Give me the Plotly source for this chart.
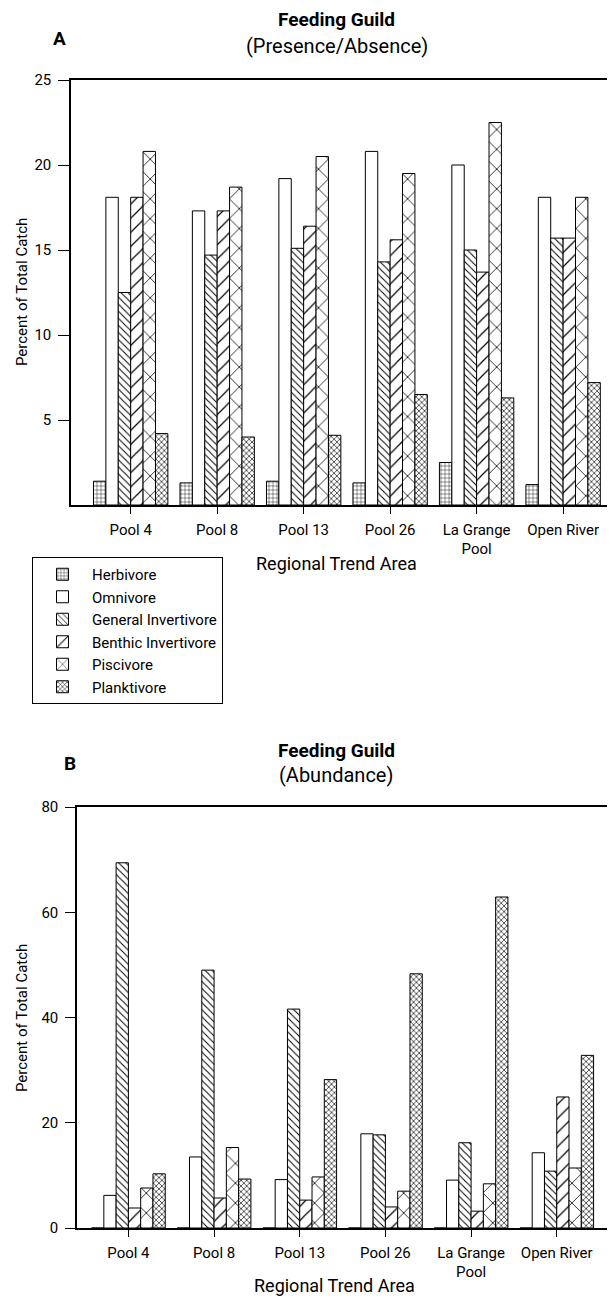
import plotly.graph_objects as go

# regional trend areas (x categories)
regions = ['Pool 4', 'Pool 8', 'Pool 13', 'Pool 26', 'La Grange<br>Pool', 'Open River']
guilds = ['Herbivore', 'Omnivore', 'General Invertivore', 'Benthic Invertivore',
          'Piscivore', 'Planktivore']

# A: presence/absence, percent of total catch
presence_herbivore = [1.4, 1.3, 1.4, 1.3, 2.5, 1.2]
presence_omnivore = [18.1, 17.3, 19.2, 20.8, 20.0, 18.1]
presence_general = [12.5, 14.7, 15.1, 14.3, 15.0, 15.7]
presence_benthic = [18.1, 17.3, 16.4, 15.6, 13.7, 15.7]
presence_piscivore = [20.8, 18.7, 20.5, 19.5, 22.5, 18.1]
presence_planktivore = [4.2, 4.0, 4.1, 6.5, 6.3, 7.2]

# B: abundance, percent of total catch
abundance_herbivore = [0, 0, 0, 0, 0, 0]
abundance_omnivore = [6.2, 13.5, 9.2, 17.9, 9.1, 14.3]
abundance_general = [69.4, 49.0, 41.6, 17.7, 16.2, 10.8]
abundance_benthic = [3.8, 5.7, 5.3, 4.0, 3.2, 24.9]
abundance_piscivore = [7.6, 15.3, 9.7, 7.0, 8.4, 11.4]
abundance_planktivore = [10.3, 9.3, 28.2, 48.3, 62.9, 32.8]

presence = [presence_herbivore, presence_omnivore, presence_general,
            presence_benthic, presence_piscivore, presence_planktivore]
abundance = [abundance_herbivore, abundance_omnivore, abundance_general,
             abundance_benthic, abundance_piscivore, abundance_planktivore]

# hatch styles per guild: (shape, size, solidity)
hatches = [
    ('+', 4, 0.2),
    ('', 8, 0.2),
    ('\\', 5, 0.2),
    ('/', 10, 0.12),
    ('x', 14, 0.11),
    ('x', 4, 0.3),
]

FONT = 'Roboto, Liberation Sans, sans-serif'
# page body has an 8px margin; the figure is laid out in page pixels
OFF = 8
W, H = 615 - OFF, 1298 - OFF


def px_x(p):
    return (p - OFF) / W


def px_y(p):
    return 1 - (p - OFF) / H


fig = go.Figure()

for i, name in enumerate(guilds):
    shape, size, solid = hatches[i]
    pattern = dict(shape=shape, size=size, solidity=solid,
                   fgcolor='black', bgcolor='white', fillmode='replace')
    fig.add_trace(go.Bar(
        x=regions, y=presence[i], name=name, xaxis='x', yaxis='y',
        marker=dict(color='white', line=dict(color='black', width=1), pattern=pattern),
        showlegend=True,
    ))
    fig.add_trace(go.Bar(
        x=regions, y=abundance[i], name=name, xaxis='x2', yaxis='y2',
        marker=dict(color='white', line=dict(color='black', width=1), pattern=pattern),
        showlegend=False,
    ))

axis_font = dict(family=FONT, size=15, color='black')

xcommon = dict(type='category', showline=True, mirror=True, linecolor='black',
               linewidth=1.5, ticks='outside', ticklen=7, tickcolor='black',
               showgrid=False, zeroline=False, tickfont=axis_font, automargin=False,
               ticklabelstandoff=3)
ycommon = dict(showline=True, linecolor='black', linewidth=1.5, ticks='outside',
               ticklen=11, tickcolor='black', showgrid=False, zeroline=False,
               tickfont=axis_font, ticklabelstandoff=4, automargin=False)
yinner = dict(showline=False, ticks='inside', ticklen=11, tickcolor='black',
              showgrid=False, zeroline=False, showticklabels=False, side='left',
              automargin=False)

top_ticks = [5, 10, 15, 20, 25]
bot_ticks = [0, 20, 40, 60, 80]

fig.update_layout(
    width=W, height=H,
    autosize=False,
    margin=dict(l=0, r=0, t=0, b=0, pad=0, autoexpand=False),
    paper_bgcolor='white', plot_bgcolor='white',
    barmode='group', bargap=0.14, bargroupgap=0,
    font=dict(family=FONT, size=15, color='black'),
    xaxis=dict(xcommon, domain=[px_x(71), 1], range=[-0.69, 5.6], anchor='y'),
    yaxis=dict(ycommon, domain=[px_y(505), px_y(80)], range=[0, 25],
               tickvals=top_ticks, anchor='x'),
    yaxis3=dict(yinner, overlaying='y', anchor='x', range=[0, 25], tickvals=top_ticks),
    xaxis2=dict(xcommon, domain=[px_x(77), 1], range=[-0.6, 5.68], anchor='y2'),
    yaxis2=dict(ycommon, domain=[px_y(1228), px_y(807)], range=[0, 80],
                tickvals=bot_ticks, anchor='x2', ticklen=10),
    yaxis4=dict(yinner, overlaying='y2', anchor='x2', range=[0, 80], tickvals=bot_ticks),
    legend=dict(x=px_x(32), y=px_y(557), xanchor='left', yanchor='top',
                bordercolor='black', borderwidth=1, bgcolor='white',
                font=dict(family=FONT, size=15, color='black'),
                itemwidth=49, traceorder='normal'),
)

annotations = [
    # panel A
    dict(text='<b>A</b>', x=px_x(59), y=px_y(38), font=dict(size=19)),
    dict(text='<b>Feeding Guild</b>', x=px_x(337), y=px_y(20), font=dict(size=19)),
    dict(text='(Presence/Absence)', x=px_x(337), y=px_y(46), font=dict(size=20)),
    dict(text='Percent of Total Catch', x=px_x(22), y=px_y(292), textangle=-90,
         font=dict(size=15)),
    dict(text='Regional Trend Area', x=px_x(337), y=px_y(563), font=dict(size=18)),
    # panel B
    dict(text='<b>B</b>', x=px_x(70), y=px_y(763), font=dict(size=19)),
    dict(text='<b>Feeding Guild</b>', x=px_x(336), y=px_y(750), font=dict(size=19)),
    dict(text='(Abundance)', x=px_x(336), y=px_y(775), font=dict(size=20)),
    dict(text='Percent of Total Catch', x=px_x(22), y=px_y(1018), textangle=-90,
         font=dict(size=15)),
    dict(text='Regional Trend Area', x=px_x(334), y=px_y(1285), font=dict(size=18)),
]
for a in annotations:
    a.update(xref='paper', yref='paper', showarrow=False, xanchor='center', yanchor='middle')
    a['font'] = dict(a['font'], family=FONT, color='black')
fig.update_layout(annotations=annotations)

fig.write_html('out.html')
